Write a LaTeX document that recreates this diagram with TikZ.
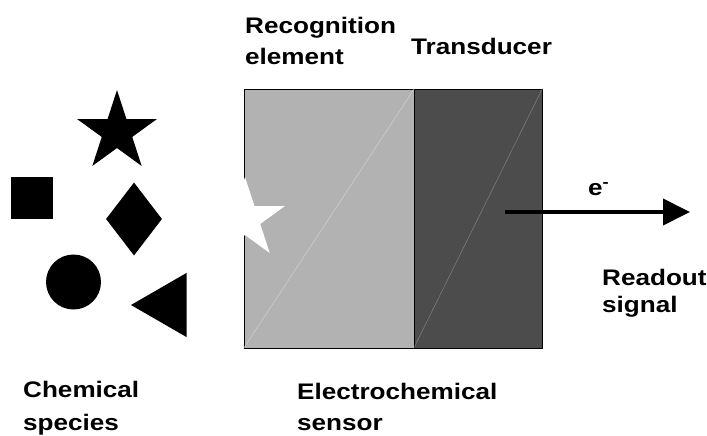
\documentclass[tikz,border=0pt]{standalone}
\usepackage{fontspec}
\setmainfont{Liberation Sans}[FakeStretch=1.16]
\usetikzlibrary{shapes.geometric,arrows.meta}
\begin{document}
\begin{tikzpicture}[x=1pt,y=-1pt]
\tikzstyle{every node}=[font=\fontsize{22.5}{31}\selectfont\bfseries,inner sep=0pt]
\tikzstyle{lbl}=[anchor=base west,align=left]
\tikzstyle{molecule}=[fill=black,draw=none,inner sep=0pt]
\tikzstyle{layer}=[draw=black,line width=0.8pt,inner sep=0pt,minimum height=259pt]
\useasboundingbox (0,0) rectangle (707,436);
\node[molecule,star,star points=5,star point ratio=2.62,minimum size=84pt](starmol) at (117,132){};
\node[molecule,rectangle,minimum size=42pt](squaremol) at (32,197.5){};
\node[molecule,diamond,minimum width=56pt,minimum height=73pt](diamondmol) at (134,219){};
\node[molecule,circle,minimum size=55pt](circlemol) at (73.5,282){};
\node[molecule,regular polygon,regular polygon sides=3,shape border rotate=90,minimum size=74pt](trianglemol) at (168,305){};
\node[layer,fill=black!30,minimum width=170pt](recog) at (329,218.5){};
\node[layer,fill=black!70,minimum width=128pt](transd) at (478,218.5){};
\draw[black!19,line width=0.5pt](recog.south west)--(recog.north east);
\draw[black!50,line width=0.5pt](transd.south west)--(transd.north east);
\node[fill=white,star,star points=5,star point ratio=2.62,minimum size=84pt](bound) at (245,219){};
\coordinate(sigstart) at (505,212);
\coordinate(sigend) at (690,212);
\draw[-{Triangle[length=27pt,width=26pt]},line width=4pt](sigstart)--(sigend);
\node[lbl](electron) at (588,195){e\textsuperscript{-}};
\node[lbl](recogtxt) at (245,65){Recognition\\element};
\node[lbl](transdtxt) at (411,55){Transducer};
\node[lbl](chemtxt) at (23,430){Chemical\\[2pt]species};
\node[lbl](sensortxt) at (297,430){Electrochemical\\sensor};
\node[lbl](readtxt) at (602,312){Readout\\[-4pt]signal};
\end{tikzpicture}
\end{document}
